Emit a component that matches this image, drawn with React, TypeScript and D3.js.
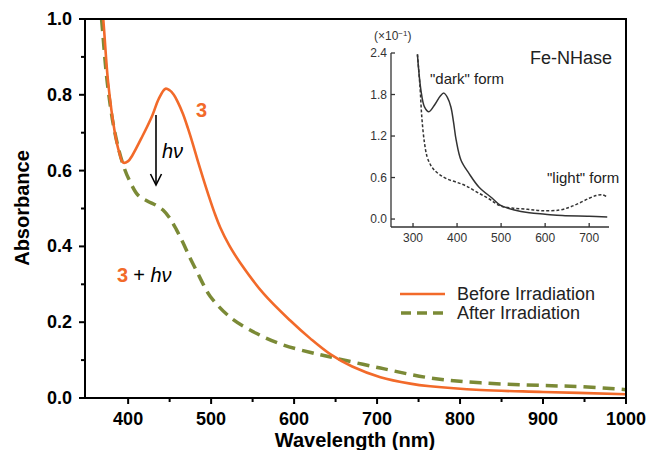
import React from "react";
import * as d3 from "d3";

// main spectrum: compound 3 before / after irradiation
const beforeWl = [360, 370, 376, 384, 389, 394, 400, 405, 417, 429, 437, 445, 450, 455, 460, 466, 472, 478, 484, 490, 497, 504, 511, 522, 535, 563, 595, 620, 644, 670, 704, 740, 764, 825, 900, 1000];
const beforeAbs = [1.25, 1.0, 0.83, 0.7, 0.65, 0.621, 0.625, 0.64, 0.69, 0.745, 0.79, 0.816, 0.812, 0.8, 0.78, 0.75, 0.712, 0.67, 0.625, 0.582, 0.534, 0.489, 0.45, 0.402, 0.357, 0.276, 0.205, 0.156, 0.115, 0.083, 0.055, 0.038, 0.031, 0.021, 0.016, 0.01];

const afterWl = [360, 368, 375, 384, 394, 402, 412, 423, 434, 442, 450, 458, 466, 474, 483, 491, 499, 523, 555, 587, 620, 644, 704, 764, 825, 900, 945, 1000];
const afterAbs = [1.2, 1.0, 0.83, 0.7, 0.615, 0.572, 0.535, 0.52, 0.508, 0.496, 0.475, 0.445, 0.41, 0.372, 0.333, 0.298, 0.268, 0.213, 0.17, 0.14, 0.12, 0.108, 0.079, 0.053, 0.04, 0.033, 0.03, 0.022];

// inset: Fe-NHase (x10^-1)
const darkWl = [310, 318, 326, 336, 350, 362, 370, 378, 386, 392, 398, 409, 427, 450, 480, 498, 530, 564, 600, 639, 700, 741];
const darkAbs = [2.38, 1.86, 1.62, 1.55, 1.66, 1.78, 1.82, 1.76, 1.62, 1.4, 1.14, 0.85, 0.66, 0.46, 0.3, 0.2, 0.13, 0.09, 0.07, 0.05, 0.04, 0.03];

const lightWl = [310, 316, 320, 326, 332, 340, 348, 361, 377, 400, 420, 445, 473, 498, 525, 560, 593, 632, 655, 677, 700, 716, 730, 741];
const lightAbs = [2.38, 1.9, 1.47, 1.1, 0.9, 0.78, 0.71, 0.64, 0.58, 0.53, 0.48, 0.39, 0.29, 0.19, 0.16, 0.14, 0.12, 0.13, 0.17, 0.23, 0.3, 0.34, 0.35, 0.32];

const xMajor = [400, 500, 600, 700, 800, 900, 1000];
const xMinor = [450, 550, 650, 750, 850, 950];
const yMajor = [0, 0.2, 0.4, 0.6, 0.8, 1.0];
const yMinor = [0.1, 0.3, 0.5, 0.7, 0.9];
const insetXTicks = [300, 400, 500, 600, 700];
const insetYTicks = [0, 0.6, 1.2, 1.8, 2.4];

const ORANGE = "#f26a2a";
const GREEN = "#7b8a36";
const FONT = "'Liberation Sans', Arial, sans-serif";

export default function App() {
  const x = d3.scaleLinear().domain([348, 1000]).range([85, 626]);
  const y = d3.scaleLinear().domain([0, 1]).range([398, 19]);
  const ix = d3.scaleLinear().domain([250, 745]).range([391, 609]);
  const iy = d3.scaleLinear().domain([-0.115, 2.4]).range([227, 53]);

  const mainLine = d3
    .line<[number, number]>()
    .x((d) => x(d[0]))
    .y((d) => y(d[1]))
    .curve(d3.curveCatmullRom.alpha(0.5));
  const insetLine = d3
    .line<[number, number]>()
    .x((d) => ix(d[0]))
    .y((d) => iy(d[1]))
    .curve(d3.curveCatmullRom.alpha(0.5));

  const zip = (a: number[], b: number[]) => a.map((v, i) => [v, b[i]] as [number, number]);

  return (
    <svg width={648} height={450} style={{ position: "absolute", left: 0, top: 0, background: "#fff" }} fontFamily={FONT}>
      <defs>
        <clipPath id="plot">
          <rect x={85} y={19} width={541} height={379} />
        </clipPath>
      </defs>

      {/* curves */}
      <g clipPath="url(#plot)">
        <path d={mainLine(zip(afterWl, afterAbs)) || ""} fill="none" stroke={GREEN} strokeWidth={3.5} strokeDasharray="12 7" />
        <path d={mainLine(zip(beforeWl, beforeAbs)) || ""} fill="none" stroke={ORANGE} strokeWidth={2.6} />
      </g>

      {/* frame */}
      <rect x={85} y={19} width={541} height={379} fill="none" stroke="#000" strokeWidth={2} />

      {/* x axis ticks */}
      {xMajor.map((t) => (
        <g key={"xm" + t}>
          <line x1={x(t)} x2={x(t)} y1={398} y2={404} stroke="#000" strokeWidth={2} />
          <text x={x(t)} y={425} textAnchor="middle" fontSize={18} fontWeight="bold">
            {t}
          </text>
        </g>
      ))}
      {xMinor.map((t) => (
        <line key={"xn" + t} x1={x(t)} x2={x(t)} y1={398} y2={402} stroke="#000" strokeWidth={2} />
      ))}

      {/* y axis ticks */}
      {yMajor.map((t) => (
        <g key={"ym" + t}>
          <line x1={79} x2={85} y1={y(t)} y2={y(t)} stroke="#000" strokeWidth={2} />
          <text x={72} y={y(t) + 6} textAnchor="end" fontSize={18} fontWeight="bold">
            {t.toFixed(1)}
          </text>
        </g>
      ))}
      {yMinor.map((t) => (
        <line key={"yn" + t} x1={81} x2={85} y1={y(t)} y2={y(t)} stroke="#000" strokeWidth={2} />
      ))}

      {/* axis titles */}
      <text x={355} y={447} textAnchor="middle" fontSize={20} fontWeight="bold">
        Wavelength (nm)
      </text>
      <text transform="translate(29,208) rotate(-90)" textAnchor="middle" fontSize={20} fontWeight="bold">
        Absorbance
      </text>

      {/* annotations */}
      <line x1={156} x2={156} y1={115} y2={184} stroke="#000" strokeWidth={1.6} />
      <path d="M150.5,174 L156,185 L161.5,174" fill="none" stroke="#000" strokeWidth={1.6} />
      <text x={162} y={158} fontSize={20} fontStyle="italic">
        hν
      </text>
      <text x={196} y={117} fontSize={20} fontWeight="bold" fill={ORANGE}>
        3
      </text>
      <text x={117} y={282} fontSize={20}>
        <tspan fontWeight="bold" fill={ORANGE}>3</tspan>
        <tspan dx={5}>+ </tspan>
        <tspan fontStyle="italic">hν</tspan>
      </text>

      {/* legend */}
      <line x1={400} x2={445} y1={294} y2={294} stroke={ORANGE} strokeWidth={2.6} />
      <line x1={401} x2={447} y1={313} y2={313} stroke={GREEN} strokeWidth={3.5} strokeDasharray="10 6" />
      <text x={457} y={300} fontSize={18} fill="#222">
        Before Irradiation
      </text>
      <text x={457} y={319} fontSize={18} fill="#222">
        After Irradiation
      </text>

      {/* inset */}
      <g stroke="#333" strokeWidth={1.3}>
        <line x1={391} x2={391} y1={53} y2={227} />
        <line x1={391} x2={609} y1={227} y2={227} />
      </g>
      {insetYTicks.map((t) => (
        <g key={"iy" + t}>
          <line x1={391} x2={395} y1={iy(t)} y2={iy(t)} stroke="#333" strokeWidth={1.3} />
          <text x={387} y={iy(t) + 4} textAnchor="end" fontSize={12} fill="#333">
            {t.toFixed(1)}
          </text>
        </g>
      ))}
      {insetXTicks.map((t) => (
        <g key={"ix" + t}>
          <line x1={ix(t)} x2={ix(t)} y1={227} y2={223} stroke="#333" strokeWidth={1.3} />
          <text x={ix(t)} y={242} textAnchor="middle" fontSize={12} fill="#333">
            {t}
          </text>
        </g>
      ))}
      <text x={374} y={40} fontSize={12} fill="#333">
        (×10
        <tspan dy={-4} fontSize={8}>−1</tspan>
        <tspan dy={4}>)</tspan>
      </text>
      <path d={insetLine(zip(lightWl, lightAbs)) || ""} fill="none" stroke="#333" strokeWidth={1.5} strokeDasharray="3 2" />
      <path d={insetLine(zip(darkWl, darkAbs)) || ""} fill="none" stroke="#333" strokeWidth={1.5} />
      <text x={571} y={64} textAnchor="middle" fontSize={18} fill="#222">
        Fe-NHase
      </text>
      <text x={430} y={84} fontSize={15} fill="#222">
        "dark" form
      </text>
      <text x={547} y={183} fontSize={15} fill="#222">
        "light" form
      </text>
    </svg>
  );
}
